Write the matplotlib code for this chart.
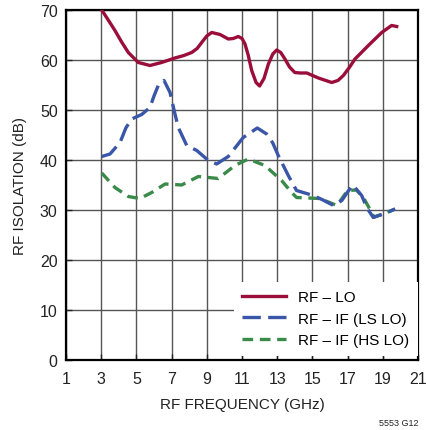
import matplotlib
matplotlib.use('Agg')
import matplotlib.pyplot as plt

plt.rcParams['font.family'] = ['Liberation Sans Narrow', 'Liberation Sans', 'DejaVu Sans']

# RF - LO
freq_lo = [3.03, 3.4, 3.78, 4.16, 4.54, 5.11, 5.77, 6.43, 7.19, 7.7, 8.14, 8.45, 8.71,
           9.0, 9.28, 9.75, 10.22, 10.5, 10.79, 11.0, 11.17, 11.35, 11.55, 11.8, 12.0,
           12.25, 12.5, 12.75, 12.97, 13.2, 13.44, 13.7, 14.0, 14.3, 14.68, 15.34, 16.1,
           16.45, 16.76, 17.1, 17.42, 18.18, 18.94, 19.5, 19.79]
iso_lo = [70.0, 68.0, 65.9, 63.6, 61.5, 59.5, 58.9, 59.5, 60.4, 60.9, 61.5, 62.3, 63.5,
          64.8, 65.5, 65.1, 64.2, 64.3, 64.7, 64.3, 63.2, 61.0, 57.9, 55.5, 54.8,
          56.3, 59.2, 61.2, 62.0, 61.5, 60.2, 58.6, 57.5, 57.4, 57.4, 56.4, 55.5,
          55.9, 56.9, 58.5, 60.2, 62.9, 65.5, 66.9, 66.7]

# RF - IF (LS LO)
freq_ls = [3.03, 3.5, 4.07, 4.4, 4.73, 5.3, 5.77, 6.0, 6.24, 6.57, 6.91, 7.15, 7.38,
           7.86, 8.43, 9.09, 9.56, 10.22, 11.07, 11.87, 12.4, 12.75, 13.06, 13.63, 14.1,
           15.05, 15.6, 16.2, 16.67, 17.0, 17.3, 17.8, 18.1, 18.46, 19.1, 19.7]
iso_ls = [40.7, 41.2, 43.5, 46.4, 48.2, 49.1, 50.5, 52.8, 54.9, 55.9, 53.5, 49.8, 46.5,
          42.9, 41.9, 39.9, 39.2, 40.7, 44.5, 46.4, 45.2, 43.4, 40.9, 36.9, 33.9,
          32.9, 32.0, 30.9, 31.9, 33.6, 35.0, 32.9, 30.4, 28.5, 29.3, 30.2]

# RF - IF (HS LO)
freq_hs = [3.03, 3.78, 4.54, 5.2, 5.87, 6.63, 7.57, 8.52, 9.65, 10.6, 11.36, 12.3,
           13.25, 13.82, 14.1, 15.4, 16.4, 17.0, 17.5, 17.9, 18.5, 19.1, 19.7]
iso_hs = [37.4, 34.5, 32.7, 32.3, 33.5, 35.2, 35.0, 36.7, 36.3, 38.9, 40.2, 38.9,
          35.9, 33.5, 32.5, 32.3, 30.9, 33.9, 34.0, 32.5, 28.6, 29.3, 30.2]

xticks = list(range(1, 22, 2))
yticks = list(range(0, 71, 10))

fig = plt.figure(figsize=(4.27, 4.31), dpi=100)
ax = fig.add_axes([0.1546, 0.1624, 0.8243, 0.8121])

ax.plot(freq_hs, iso_hs, color='#3a8a4a', lw=2.4, linestyle=(0, (3.2, 2.0)),
        label='RF – IF (HS LO)', zorder=3)
ax.plot(freq_ls, iso_ls, color='#3a56a8', lw=2.4, linestyle=(0, (5.5, 2.2)),
        label='RF – IF (LS LO)', zorder=4)
ax.plot(freq_lo, iso_lo, color='#9b0d3a', lw=2.4, label='RF – LO', zorder=5)

ax.set_xlim(1, 21)
ax.set_ylim(0, 70)
ax.set_xticks(xticks)
ax.set_yticks(yticks)
ax.grid(True, color='#555555', lw=1.0)
ax.tick_params(direction='in', length=4, width=1, labelsize=11.5, colors='#222222', pad=6)
ax.tick_params(axis='x', pad=8)
for s in ax.spines.values():
    s.set_linewidth(1.6)
    s.set_color('black')

ax.set_xlabel('RF FREQUENCY (GHz)', fontsize=11, color='#222222', labelpad=8)
ax.set_ylabel('RF ISOLATION (dB)', fontsize=11, color='#222222', labelpad=9)

h, l = ax.get_legend_handles_labels()
leg = ax.legend(h[::-1], l[::-1], loc='lower right', bbox_to_anchor=(1.0, 0.012),
                fontsize=11, frameon=True, fancybox=False, framealpha=1,
                edgecolor='none', facecolor='white', borderaxespad=0,
                handlelength=2.9, handletextpad=0.8, labelspacing=0.5,
                borderpad=0.55)
leg.set_zorder(6)

fig.text(0.98, 0.008, '5553 G12', fontsize=6.5, ha='right', va='bottom', color='#222222')

fig.savefig('out.png', dpi=100)
